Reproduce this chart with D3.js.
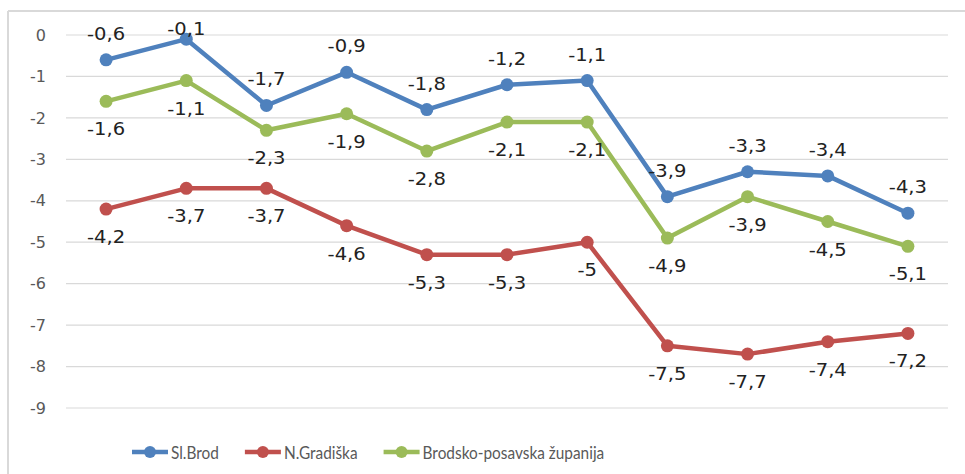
<!DOCTYPE html>
<html><head><meta charset="utf-8">
<script src="https://cdn.jsdelivr.net/npm/d3@7"></script>
<style>html,body{margin:0;padding:0;background:#fff;}svg{display:block;}</style>
</head><body>
<svg id="chart" width="965" height="474"></svg>
<script>
const categories = ["1","2","3","4","5","6","7","8","9","10","11"];
const slBrod = [-0.6, -0.1, -1.7, -0.9, -1.8, -1.2, -1.1, -3.9, -3.3, -3.4, -4.3];
const nGradiska = [-4.2, -3.7, -3.7, -4.6, -5.3, -5.3, -5, -7.5, -7.7, -7.4, -7.2];
const brodskoPosavska = [-1.6, -1.1, -2.3, -1.9, -2.8, -2.1, -2.1, -4.9, -3.9, -4.5, -5.1];
const yTicks = [0, -1, -2, -3, -4, -5, -6, -7, -8, -9];
const seriesNames = ["Sl.Brod", "N.Gradiška", "Brodsko-posavska županija"];

(function () {
const series = [
  {name: seriesNames[0], values: slBrod, color: "#4F81BD", labelPos: "above"},
  {name: seriesNames[1], values: nGradiska, color: "#C0504D", labelPos: "below"},
  {name: seriesNames[2], values: brodskoPosavska, color: "#9BBB59", labelPos: "below"}
];

const svg = d3.select("#chart");
svg.append("line").attr("x1", 8).attr("x2", 965).attr("y1", 11).attr("y2", 11).attr("stroke", "#d9d9d9").attr("stroke-width", 2);
svg.append("line").attr("x1", 8).attr("x2", 8).attr("y1", 11).attr("y2", 474).attr("stroke", "#d9d9d9").attr("stroke-width", 2);

const pLeft = 66, pRight = 948, pTop = 35, pBottom = 408;
const x = d3.scalePoint().domain(categories).range([pLeft, pRight]).padding(0.5);
const y = d3.scaleLinear().domain([0, -9]).range([pTop, pBottom]);

svg.append("g").selectAll("line").data(yTicks).join("line")
  .attr("x1", pLeft).attr("x2", pRight)
  .attr("y1", d => y(d)).attr("y2", d => y(d))
  .attr("stroke", "#d9d9d9").attr("stroke-width", 1.2);

const yAxis = svg.append("g").attr("transform", `translate(${pLeft - 20},0)`)
  .call(d3.axisLeft(y).tickValues(yTicks).tickSize(0).tickPadding(0).tickFormat(d => String(d)));
yAxis.select(".domain").remove();
yAxis.selectAll("text").attr("font-family", "DejaVu Sans").attr("font-size", 16).attr("fill", "#595959");

const fmt = v => String(v).replace(".", ",");
const line = d3.line().x((d, i) => x(categories[i])).y(d => y(d));
const labelY = (d, pos) => pos === "above" ? Math.max(pTop, y(d) - 20) : y(d) + 34;

series.forEach(s => {
  const g = svg.append("g");
  g.append("path").datum(s.values).attr("d", line)
    .attr("fill", "none").attr("stroke", s.color).attr("stroke-width", 4.5).attr("stroke-linejoin", "round");
  g.selectAll("circle").data(s.values).join("circle")
    .attr("cx", (d, i) => x(categories[i])).attr("cy", d => y(d)).attr("r", 6.5).attr("fill", s.color);
  g.selectAll("text").data(s.values).join("text")
    .attr("transform", (d, i) => `translate(${x(categories[i])},${labelY(d, s.labelPos)}) scale(1.15,1)`)
    .attr("text-anchor", "middle")
    .attr("font-family", "DejaVu Sans").attr("font-size", 17).attr("fill", "#222")
    .text(d => fmt(d));
});

const legend = svg.append("g").attr("transform", "translate(132,452)");
let lx = 0;
const sx = 0.88;
series.forEach(s => {
  const item = legend.append("g").attr("transform", `translate(${lx},0)`);
  item.append("line").attr("x1", 0).attr("x2", 36).attr("y1", 0).attr("y2", 0).attr("stroke", s.color).attr("stroke-width", 4.5);
  item.append("circle").attr("cx", 18).attr("cy", 0).attr("r", 6).attr("fill", s.color);
  const t = item.append("text").attr("transform", `translate(39,6.5) scale(${sx},1)`)
    .attr("font-family", "Lato").attr("font-size", 17.5).attr("fill", "#595959").text(s.name);
  lx += 39 + t.node().getComputedTextLength() * sx + 26;
});
})();
</script>
</body></html>
